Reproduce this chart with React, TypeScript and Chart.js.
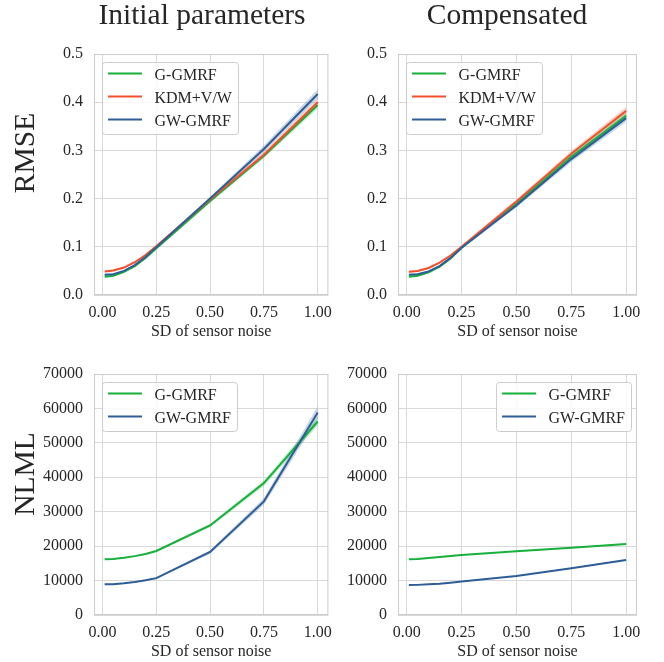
import React, { useEffect, useRef } from 'react';
import { Chart, registerables } from 'chart.js';

Chart.register(...registerables);

// ---------------- data ----------------
const noiseSD = [0.01, 0.05, 0.1, 0.15, 0.2, 0.25, 0.5, 0.75, 1.0];
const xTickValues = [0, 0.25, 0.5, 0.75, 1.0];
const rmseTickValues = [0, 0.1, 0.2, 0.3, 0.4, 0.5];
const nlmlTickValues = [0, 10000, 20000, 30000, 40000, 50000, 60000, 70000];

const columnTitles = ['Initial parameters', 'Compensated'];
const rowTitles = ['RMSE', 'NLML'];
const xAxisTitle = 'SD of sensor noise';

// RMSE, initial parameters
const rmseInitGGMRF = [0.038, 0.040, 0.048, 0.060, 0.077, 0.097, 0.195, 0.289, 0.394];
const rmseInitGGMRFSpread = [0.002, 0.002, 0.002, 0.002, 0.002, 0.003, 0.004, 0.005, 0.007];
const rmseInitKDM = [0.049, 0.051, 0.057, 0.068, 0.083, 0.101, 0.198, 0.291, 0.400];
const rmseInitKDMSpread = [0.002, 0.002, 0.002, 0.002, 0.002, 0.003, 0.004, 0.005, 0.007];
const rmseInitGWGMRF = [0.042, 0.043, 0.050, 0.062, 0.079, 0.099, 0.200, 0.303, 0.417];
const rmseInitGWGMRFSpread = [0.002, 0.002, 0.002, 0.002, 0.002, 0.003, 0.004, 0.007, 0.010];

// RMSE, compensated
const rmseCompGGMRF = [0.038, 0.040, 0.047, 0.059, 0.076, 0.098, 0.190, 0.287, 0.372];
const rmseCompGGMRFSpread = [0.002, 0.002, 0.002, 0.002, 0.002, 0.003, 0.004, 0.005, 0.007];
const rmseCompKDM = [0.048, 0.050, 0.056, 0.067, 0.082, 0.100, 0.194, 0.293, 0.382];
const rmseCompKDMSpread = [0.002, 0.002, 0.002, 0.002, 0.002, 0.003, 0.004, 0.006, 0.008];
const rmseCompGWGMRF = [0.042, 0.043, 0.049, 0.060, 0.077, 0.098, 0.186, 0.282, 0.367];
const rmseCompGWGMRFSpread = [0.002, 0.002, 0.002, 0.002, 0.002, 0.003, 0.004, 0.006, 0.008];

// NLML, initial parameters
const nlmlInitGGMRF = [16200, 16300, 16600, 17100, 17700, 18600, 26000, 38300, 56200];
const nlmlInitGGMRFSpread = [150, 150, 150, 150, 200, 250, 500, 800, 1200];
const nlmlInitGWGMRF = [8900, 8950, 9200, 9600, 10100, 10700, 18300, 33000, 58800];
const nlmlInitGWGMRFSpread = [150, 150, 150, 150, 200, 250, 500, 1000, 1800];

// NLML, compensated
const nlmlCompGGMRF = [16200, 16300, 16550, 16850, 17150, 17450, 18500, 19550, 20600];
const nlmlCompGGMRFSpread = [100, 100, 100, 100, 100, 100, 120, 150, 180];
const nlmlCompGWGMRF = [8700, 8750, 8900, 9100, 9400, 9700, 11350, 13550, 16000];
const nlmlCompGWGMRFSpread = [100, 100, 100, 100, 100, 100, 120, 150, 180];

// ---------------- style ----------------
const FONT = '"Liberation Serif", "Times New Roman", Times, serif';
const TXT = '#262626';
const GRID = '#d9d9d9';
const SPINE = '#cccccc';
const C_G = '#17b03c';
const C_K = '#f4502b';
const C_GW = '#2e5e97';

function rgba(hex: string, a: number) {
  const n = parseInt(hex.slice(1), 16);
  return `rgba(${(n >> 16) & 255},${(n >> 8) & 255},${n & 255},${a})`;
}

type Series = { label: string; color: string; values: number[]; spread: number[]; order: number };

function buildDatasets(series: Series[]) {
  const lines = series.map((s) => ({
    label: s.label,
    data: noiseSD.map((x, i) => ({ x, y: s.values[i] })),
    borderColor: s.color,
    backgroundColor: s.color,
    borderWidth: 2,
    pointRadius: 0,
    fill: false,
    order: s.order,
  }));
  const bands: any[] = [];
  series.forEach((s) => {
    bands.push({
      label: '_lo',
      data: noiseSD.map((x, i) => ({ x, y: s.values[i] - s.spread[i] })),
      borderWidth: 0,
      borderColor: 'rgba(0,0,0,0)',
      pointRadius: 0,
      fill: false,
      order: 10,
    });
    bands.push({
      label: '_hi',
      data: noiseSD.map((x, i) => ({ x, y: s.values[i] + s.spread[i] })),
      borderWidth: 0,
      borderColor: 'rgba(0,0,0,0)',
      backgroundColor: rgba(s.color, 0.25),
      pointRadius: 0,
      fill: '-1',
      order: 10,
    });
  });
  return [...lines, ...bands];
}

const framePlugin = {
  id: 'frame',
  afterDatasetsDraw(chart: any) {
    const { ctx, chartArea: a } = chart;
    ctx.save();
    ctx.strokeStyle = SPINE;
    ctx.lineWidth = 1;
    ctx.strokeRect(a.left + 0.5, a.top + 0.5, a.right - a.left - 1, a.bottom - a.top - 1);
    ctx.restore();
  },
};

function makeLegendPlugin(pos: 'ul' | 'ur') {
  return {
    id: 'boxLegend',
    afterDraw(chart: any) {
      const { ctx, chartArea: a } = chart;
      const items = chart.data.datasets.filter((d: any) => !String(d.label).startsWith('_'));
      ctx.save();
      ctx.font = `16px ${FONT}`;
      const textW = Math.max(...items.map((d: any) => ctx.measureText(d.label).width));
      const padL = 5.5, lineLen = 34, gap = 12.5, padR = 6.5;
      const padT = 11, rowH = 23, padB = 15;
      const w = padL + lineLen + gap + textW + padR;
      const h = padT + rowH * (items.length - 1) + padB;
      const x0 = pos === 'ul' ? a.left + 8.5 : a.right - 5.5 - w;
      const y0 = a.top + 8.5;
      const r = 3;
      ctx.beginPath();
      ctx.moveTo(x0 + r, y0);
      ctx.lineTo(x0 + w - r, y0);
      ctx.arcTo(x0 + w, y0, x0 + w, y0 + r, r);
      ctx.lineTo(x0 + w, y0 + h - r);
      ctx.arcTo(x0 + w, y0 + h, x0 + w - r, y0 + h, r);
      ctx.lineTo(x0 + r, y0 + h);
      ctx.arcTo(x0, y0 + h, x0, y0 + h - r, r);
      ctx.lineTo(x0, y0 + r);
      ctx.arcTo(x0, y0, x0 + r, y0, r);
      ctx.closePath();
      ctx.fillStyle = 'rgba(255,255,255,0.85)';
      ctx.fill();
      ctx.strokeStyle = SPINE;
      ctx.lineWidth = 1;
      ctx.stroke();
      items.forEach((d: any, i: number) => {
        const y = y0 + padT + rowH * i;
        ctx.beginPath();
        ctx.moveTo(x0 + padL, y);
        ctx.lineTo(x0 + padL + lineLen, y);
        ctx.strokeStyle = d.borderColor;
        ctx.lineWidth = 2;
        ctx.stroke();
        ctx.fillStyle = TXT;
        ctx.textBaseline = 'alphabetic';
        ctx.textAlign = 'left';
        ctx.fillText(d.label, x0 + padL + lineLen + gap, y + 6.3);
      });
      ctx.restore();
    },
  };
}

type PanelProps = {
  left: number; top: number; width: number; height: number;
  padTop: number; padRight: number; yWidth: number; xHeight: number; xTitlePad: number;
  yMax: number; yTicks: number[]; yFmt: (v: number) => string;
  series: Series[]; legendPos: 'ul' | 'ur';
};

function Panel(p: PanelProps) {
  const ref = useRef<HTMLCanvasElement>(null);
  useEffect(() => {
    if (!ref.current) return;
    const tickFont = { family: FONT, size: 16 };
    const chart = new Chart(ref.current, {
      type: 'line',
      data: { datasets: buildDatasets(p.series) as any },
      options: {
        animation: false,
        responsive: false,
        devicePixelRatio: 1,
        layout: { padding: { top: p.padTop, right: p.padRight, bottom: 0, left: 0 } },
        plugins: { legend: { display: false }, tooltip: { enabled: false } },
        elements: { point: { radius: 0 }, line: { tension: 0 } },
        scales: {
          x: {
            type: 'linear',
            min: -0.0395,
            max: 1.0495,
            afterBuildTicks: (s: any) => { s.ticks = xTickValues.map((v) => ({ value: v })); },
            afterFit: (s: any) => { s.height = p.xHeight; },
            ticks: {
              callback: (v: any) => Number(v).toFixed(2),
              font: tickFont, color: TXT, padding: 8, maxRotation: 0, autoSkip: false,
            },
            grid: { color: GRID, lineWidth: 1, drawTicks: false },
            border: { display: false },
            title: {
              display: true, text: xAxisTitle, color: TXT,
              font: { family: FONT, size: 16, lineHeight: 1 },
              padding: { top: 0, bottom: p.xTitlePad },
            },
          },
          y: {
            type: 'linear',
            min: 0,
            max: p.yMax,
            afterBuildTicks: (s: any) => { s.ticks = p.yTicks.map((v) => ({ value: v })); },
            afterFit: (s: any) => { s.width = p.yWidth; },
            ticks: { callback: (v: any) => p.yFmt(Number(v)), font: tickFont, color: TXT, padding: 11, autoSkip: false },
            grid: { color: GRID, lineWidth: 1, drawTicks: false },
            border: { display: false },
          },
        },
      } as any,
      plugins: [framePlugin, makeLegendPlugin(p.legendPos)],
    });
    return () => chart.destroy();
  }, []);
  return (
    <canvas
      ref={ref}
      width={p.width}
      height={p.height}
      style={{ position: 'absolute', left: p.left, top: p.top, width: p.width, height: p.height }}
    />
  );
}

const fmtRmse = (v: number) => v.toFixed(1);
const fmtNlml = (v: number) => String(Math.round(v));

const bigText: React.CSSProperties = {
  position: 'absolute',
  fontFamily: FONT,
  fontSize: 29.5,
  lineHeight: '29.5px',
  color: TXT,
  whiteSpace: 'nowrap',
};

export default function App() {
  return (
    <div style={{ position: 'fixed', left: 0, top: 0, width: 664, height: 662, background: '#fff', overflow: 'hidden' }}>
      <Panel
        left={0} top={0} width={340} height={340}
        padTop={54} padRight={6} yWidth={94} xHeight={45} xTitlePad={0}
        yMax={0.5} yTicks={rmseTickValues} yFmt={fmtRmse} legendPos="ul"
        series={[
          { label: 'G-GMRF', color: C_G, values: rmseInitGGMRF, spread: rmseInitGGMRFSpread, order: 3 },
          { label: 'KDM+V/W', color: C_K, values: rmseInitKDM, spread: rmseInitKDMSpread, order: 2 },
          { label: 'GW-GMRF', color: C_GW, values: rmseInitGWGMRF, spread: rmseInitGWGMRFSpread, order: 1 },
        ]}
      />
      <Panel
        left={340} top={0} width={324} height={340}
        padTop={54} padRight={27} yWidth={58} xHeight={45} xTitlePad={0}
        yMax={0.5} yTicks={rmseTickValues} yFmt={fmtRmse} legendPos="ul"
        series={[
          { label: 'G-GMRF', color: C_G, values: rmseCompGGMRF, spread: rmseCompGGMRFSpread, order: 3 },
          { label: 'KDM+V/W', color: C_K, values: rmseCompKDM, spread: rmseCompKDMSpread, order: 2 },
          { label: 'GW-GMRF', color: C_GW, values: rmseCompGWGMRF, spread: rmseCompGWGMRFSpread, order: 1 },
        ]}
      />
      <Panel
        left={0} top={340} width={340} height={322}
        padTop={34} padRight={6} yWidth={94} xHeight={47} xTitlePad={2}
        yMax={70000} yTicks={nlmlTickValues} yFmt={fmtNlml} legendPos="ul"
        series={[
          { label: 'G-GMRF', color: C_G, values: nlmlInitGGMRF, spread: nlmlInitGGMRFSpread, order: 2 },
          { label: 'GW-GMRF', color: C_GW, values: nlmlInitGWGMRF, spread: nlmlInitGWGMRFSpread, order: 1 },
        ]}
      />
      <Panel
        left={340} top={340} width={324} height={322}
        padTop={34} padRight={27} yWidth={58} xHeight={47} xTitlePad={2}
        yMax={70000} yTicks={nlmlTickValues} yFmt={fmtNlml} legendPos="ur"
        series={[
          { label: 'G-GMRF', color: C_G, values: nlmlCompGGMRF, spread: nlmlCompGGMRFSpread, order: 2 },
          { label: 'GW-GMRF', color: C_GW, values: nlmlCompGWGMRF, spread: nlmlCompGWGMRFSpread, order: 1 },
        ]}
      />
      <div style={{ ...bigText, left: 202, top: 0, transform: 'translateX(-50%)' }}>{columnTitles[0]}</div>
      <div style={{ ...bigText, left: 507, top: 0, transform: 'translateX(-50%)' }}>{columnTitles[1]}</div>
      <div style={{ ...bigText, left: 25, top: 153, transform: 'translate(-50%, -50%) rotate(-90deg)' }}>{rowTitles[0]}</div>
      <div style={{ ...bigText, left: 25, top: 474, transform: 'translate(-50%, -50%) rotate(-90deg)' }}>{rowTitles[1]}</div>
    </div>
  );
}
